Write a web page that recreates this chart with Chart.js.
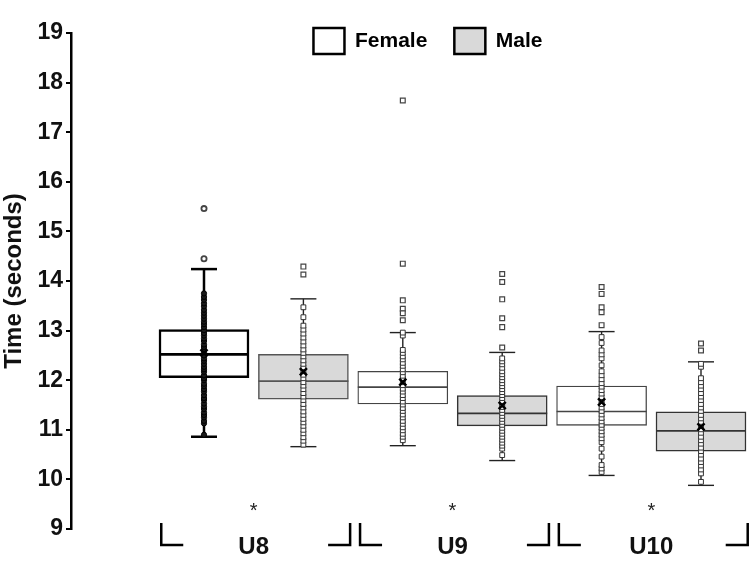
<!DOCTYPE html>
<html>
<head>
<meta charset="utf-8">
<script src="https://cdn.jsdelivr.net/npm/chart.js@4.4.0/dist/chart.umd.min.js"></script>
<style>
  html, body { margin: 0; padding: 0; background: #fff; }
  #wrap { width: 750px; height: 587px; }
</style>
</head>
<body>
<div id="wrap"><canvas id="myChart"></canvas></div>
<script>
const groups = ['U8', 'U9', 'U10']
const sexes = ['Female', 'Male']
const yTicks = [9, 10, 11, 12, 13, 14, 15, 16, 17, 18, 19]
const significance = ['*', '*', '*']

// one entry per box, order: U8 F, U8 M, U9 F, U9 M, U10 F, U10 M
const boxX = [1, 2, 3, 4, 5, 6]
const q1 = [12.05, 11.62, 11.52, 11.08, 11.09, 10.57]
const median = [12.52, 11.98, 11.86, 11.33, 11.37, 10.98]
const q3 = [13.02, 12.52, 12.18, 11.69, 11.88, 11.36]
const whiskerLow = [10.86, 10.66, 10.68, 10.38, 10.08, 9.88]
const whiskerHigh = [14.24, 13.64, 12.96, 12.56, 12.98, 12.37]
const means = [12.55, 12.17, 11.96, 11.49, 11.56, 11.06]

const outliers = [
    [15.46, 14.45],
    [14.29, 14.13],
    [17.64, 14.35, 13.61, 13.44, 13.35, 13.21],
    [14.14, 13.98, 13.63, 13.25, 13.07, 12.66],
    [13.88, 13.74, 13.47, 13.37, 13.11],
    [12.74, 12.60]
]

const u8Female = [10.9, 11.13, 11.18, 11.25, 11.3, 11.35, 11.42, 11.47, 11.53, 11.6, 11.64, 11.7, 11.77, 11.82, 11.88,
    11.93, 12.0, 12.04, 12.1, 12.17, 12.22, 12.27, 12.33, 12.39, 12.44, 12.5, 12.56, 12.61, 12.67, 12.72, 12.79,
    12.84, 12.9, 12.95, 13.01, 13.07, 13.13, 13.18, 13.24, 13.3, 13.36, 13.42, 13.49, 13.55, 13.62, 13.68, 13.75]
const u8Male = [10.7, 10.78, 10.85, 10.93, 11.0, 11.08, 11.15, 11.22, 11.3, 11.37, 11.45, 11.52, 11.6, 11.67, 11.74,
    11.82, 11.89, 11.96, 12.04, 12.11, 12.18, 12.26, 12.33, 12.4, 12.48, 12.55, 12.62, 12.7, 12.78, 12.86, 12.94,
    13.02, 13.1, 13.27, 13.47]
const u9Female = [10.79, 10.86, 10.92, 10.99, 11.05, 11.12, 11.18, 11.25, 11.31, 11.38, 11.44, 11.51, 11.57, 11.64,
    11.7, 11.77, 11.83, 11.9, 11.96, 12.03, 12.09, 12.16, 12.22, 12.29, 12.35, 12.42, 12.48, 12.55, 12.61, 12.9, 12.96]
const u9Male = [10.49, 10.62, 10.68, 10.74, 10.8, 10.86, 10.92, 10.98, 11.04, 11.1, 11.16, 11.22, 11.28, 11.34, 11.4,
    11.46, 11.52, 11.58, 11.64, 11.7, 11.76, 11.82, 11.88, 11.94, 12.0, 12.06, 12.12, 12.18, 12.25, 12.32, 12.38, 12.44]
const u10Female = [10.15, 10.22, 10.29, 10.46, 10.62, 10.75, 10.83, 10.9, 10.97, 11.04, 11.1, 11.17, 11.24, 11.31,
    11.38, 11.45, 11.52, 11.59, 11.66, 11.73, 11.8, 11.87, 11.94, 12.02, 12.1, 12.18, 12.3, 12.44, 12.52, 12.6, 12.75, 12.87]
const u10Male = [9.95, 10.12, 10.2, 10.28, 10.35, 10.42, 10.5, 10.57, 10.64, 10.72, 10.79, 10.86, 10.94, 11.01,
    11.08, 11.16, 11.23, 11.3, 11.38, 11.45, 11.52, 11.6, 11.67, 11.74, 11.82, 11.89, 11.96, 12.04, 12.27, 12.33]
const points = [u8Female, u8Male, u9Female, u9Male, u10Female, u10Male]

// styling per box (U8 female drawn heavier, as in the figure)
const boxFill = ['#ffffff', '#d9d9d9', '#ffffff', '#d9d9d9', '#ffffff', '#d9d9d9']
const boxLine = ['#000000', '#555555', '#444444', '#333333', '#444444', '#333333']
const boxLineW = [2.5, 1.5, 1.3, 1.5, 1.3, 1.5]

const FONT = 'Liberation Sans, Arial, sans-serif'
const datasets = []

// whiskers
for (let i = 0; i < boxX.length; i++) {
    datasets.push({
        type: 'line',
        data: [{x: boxX[i], y: whiskerLow[i]}, {x: boxX[i], y: whiskerHigh[i]}],
        borderColor: i == 0 ? '#000' : '#222',
        borderWidth: i == 0 ? 2.5 : 1.4,
        pointRadius: 0,
        order: 20
    })
    datasets.push({
        type: 'scatter',
        data: [{x: boxX[i], y: whiskerLow[i]}, {x: boxX[i], y: whiskerHigh[i]}],
        pointStyle: 'line',
        pointRadius: 13,
        borderColor: i == 0 ? '#000' : '#222',
        borderWidth: i == 0 ? 2.5 : 1.4,
        order: 6
    })
}

// boxes, female and male
for (let s = 0; s < 2; s++) {
    const idx = boxX.map((v, i) => i).filter(i => i % 2 == s)
    datasets.push({
        type: 'bar',
        label: sexes[s],
        data: idx.map(i => ({x: boxX[i], y: [q1[i], q3[i]]})),
        backgroundColor: idx.map(i => boxFill[i]),
        borderColor: idx.map(i => boxLine[i]),
        borderWidth: idx.map(i => boxLineW[i]),
        borderSkipped: false,
        grouped: false,
        barThickness: 90,
        clip: false,
        order: 10
    })
}

// medians
for (let i = 0; i < boxX.length; i++) {
    datasets.push({
        type: 'scatter',
        data: [{x: boxX[i], y: median[i]}],
        pointStyle: 'line',
        pointRadius: 45,
        borderColor: boxLine[i],
        borderWidth: boxLineW[i] + 0.3,
        clip: false,
        order: 7
    })
}

// individual values and outliers
for (let i = 0; i < boxX.length; i++) {
    datasets.push({
        type: 'scatter',
        data: points[i].map(v => ({x: boxX[i], y: v})),
        pointStyle: i == 0 ? 'circle' : 'rect',
        pointRadius: i == 0 ? 2.6 : 3.4,
        backgroundColor: i == 0 ? '#1a1a1a' : '#ffffff',
        borderColor: i == 0 ? '#000' : '#333',
        borderWidth: 1,
        order: 3
    })
    datasets.push({
        type: 'scatter',
        data: outliers[i].map(v => ({x: boxX[i], y: v})),
        pointStyle: i == 0 ? 'circle' : 'rect',
        pointRadius: i == 0 ? 2.6 : 3.4,
        backgroundColor: '#ffffff',
        borderColor: '#444',
        borderWidth: i == 0 ? 1.8 : 1.2,
        order: 3
    })
}

// means
datasets.push({
    type: 'scatter',
    data: boxX.map((x, i) => ({x: x, y: means[i]})),
    pointStyle: 'crossRot',
    pointRadius: 5,
    borderColor: '#000',
    borderWidth: 2.5,
    order: 1
})

// brackets under each age group and significance stars
const groupMarks = {
    id: 'groupMarks',
    afterLayout(chart) {
        // nudge the legend to where it sits in the figure
        chart.legend.left += 53
        chart.legend.right += 53
        chart.legend.top += 31
        chart.legend.bottom += 31
    },
    afterDraw(chart) {
        const ctx = chart.ctx
        const xs = chart.scales.x
        const ys = chart.scales.y
        const base = ys.getPixelForValue(9)
        ctx.save()
        ctx.strokeStyle = '#000'
        ctx.lineWidth = 2.5
        ctx.fillStyle = '#222'
        ctx.font = '20px ' + FONT
        ctx.textAlign = 'center'
        ctx.textBaseline = 'alphabetic'
        for (let g = 0; g < groups.length; g++) {
            const l = xs.getPixelForValue(2 * g + 1 - 0.43)
            const r = xs.getPixelForValue(2 * g + 2 + 0.47)
            ctx.beginPath()
            ctx.moveTo(l, base - 6)
            ctx.lineTo(l, base + 16)
            ctx.lineTo(l + 22, base + 16)
            ctx.moveTo(r - 22, base + 16)
            ctx.lineTo(r, base + 16)
            ctx.lineTo(r, base - 6)
            ctx.stroke()
            ctx.fillText(significance[g], xs.getPixelForValue(2 * g + 1.5), ys.getPixelForValue(9.48) + 12)
        }
        ctx.restore()
    }
}

const chart1 = new Chart(document.getElementById('myChart'), {
    type: 'bar',
    data: {datasets: datasets},
    options: {
        responsive: true,
        maintainAspectRatio: false,
        animation: false,
        events: [],
        layout: {autoPadding: false, padding: {top: -30, right: 0, bottom: 0, left: 0}},
        plugins: {
            tooltip: {enabled: false},
            legend: {
                display: true,
                position: 'top',
                align: 'center',
                labels: {
                    boxWidth: 31,
                    boxHeight: 26,
                    padding: 27,
                    color: '#111',
                    font: {family: FONT, size: 21, weight: 'bold'},
                    generateLabels: () => [
                        {text: sexes[0], fillStyle: '#ffffff', strokeStyle: '#000', lineWidth: 2.5, hidden: false, datasetIndex: 0},
                        {text: sexes[1], fillStyle: '#d9d9d9', strokeStyle: '#000', lineWidth: 2.5, hidden: false, datasetIndex: 1}
                    ]
                }
            }
        },
        scales: {
            x: {
                type: 'linear',
                offset: false,
                min: -0.338,
                max: 6.493,
                grid: {display: false, drawTicks: false},
                border: {display: false},
                afterBuildTicks: (scale) => {
                    scale.ticks = groups.map((g, i) => ({value: 2 * i + 1.5}))
                },
                afterFit: (scale) => {
                    scale.height = 58
                    scale.paddingLeft = 0
                    scale.paddingRight = 0
                },
                ticks: {
                    padding: 4,
                    color: '#111',
                    font: {family: FONT, size: 24, weight: 'bold'},
                    callback: (v, i) => groups[i]
                }
            },
            y: {
                type: 'linear',
                min: 9,
                max: 19,
                afterBuildTicks: (scale) => {
                    scale.ticks = yTicks.map(v => ({value: v}))
                },
                afterFit: (scale) => { scale.width = 71 },
                grid: {drawOnChartArea: false, drawTicks: true, tickLength: 5, color: '#000', lineWidth: 2},
                border: {display: true, color: '#000', width: 2.5},
                title: {
                    display: true,
                    text: 'Time (seconds)',
                    color: '#111',
                    font: {family: FONT, size: 24, weight: 'bold'},
                    padding: {top: 0, bottom: 0}
                },
                ticks: {
                    padding: 3,
                    color: '#111',
                    font: {family: FONT, size: 23, weight: 'bold'}
                }
            }
        }
    },
    plugins: [groupMarks]
})
</script>
</body>
</html>
